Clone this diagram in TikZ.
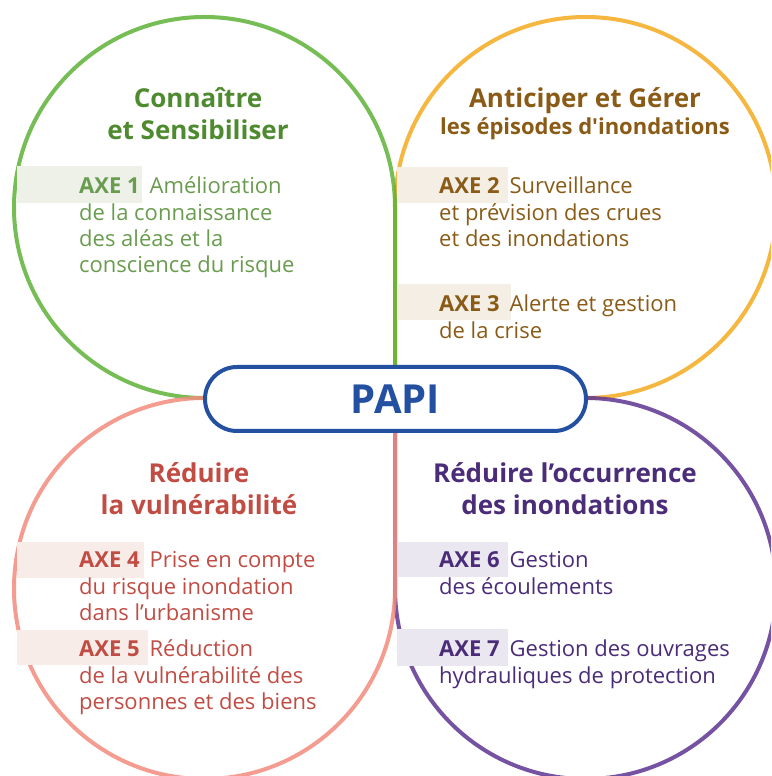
\documentclass[tikz,border=0pt]{standalone}
\usepackage{fontspec}
\setmainfont{Open Sans}
\usepackage{tikz}
\usetikzlibrary{positioning}
\definecolor{vert}{HTML}{5DB236}
\definecolor{verttxt}{HTML}{4E8A2F}
\definecolor{vertfond}{HTML}{EDF1E8}
\definecolor{orange}{HTML}{F5AA1E}
\definecolor{orangetxt}{HTML}{8A5B16}
\definecolor{orangefond}{HTML}{F4EEE5}
\definecolor{rose}{HTML}{F28B7D}
\definecolor{rosetxt}{HTML}{C14C43}
\definecolor{rosefond}{HTML}{F8ECE9}
\definecolor{violet}{HTML}{5E3592}
\definecolor{violettxt}{HTML}{4B2C79}
\definecolor{violetfond}{HTML}{EBE7F1}
\definecolor{bleu}{HTML}{2350A0}
\tikzset{blob/.style={line width=4pt, draw opacity=0.85},
         titre/.style={font=\bfseries\fontsize{26}{32.5}\selectfont, align=center, anchor=base, inner sep=0pt},
         axetxt/.style={font=\fontsize{22}{26.3}\selectfont, align=left, anchor=base west, inner sep=0pt},
         papibox/.style={draw=bleu, line width=4pt, fill=white, rounded corners=32pt,
         minimum width=381pt, minimum height=64pt, text=bleu,
         font=\bfseries\fontsize{40}{44}\selectfont}}

\begin{document}
\begin{tikzpicture}[x=1pt,y=1pt]
\clip (0,0) rectangle (771,776);

% les quatre bulles
\draw [blob, orange] (395,378) -- (585.5,378) arc[start angle=-90, end angle=180, radius=190.5] -- cycle;
\draw [blob, vert] (395,378) -- (395,568.5) arc[start angle=0, end angle=270, radius=190.5] -- cycle;
\draw [blob, violet] (395,378) -- (395,187.5) arc[start angle=180, end angle=450, radius=190.5] -- cycle;
\draw [blob, rose] (395,378) -- (204.5,378) arc[start angle=90, end angle=360, radius=190.5] -- cycle;

% fonds des axes
\fill [vertfond] (17,573) rectangle (142,610);
\fill [orangefond] (397,573) rectangle (508,609);
\fill [orangefond] (397,456) rectangle (511,492);
\fill [rosefond] (17,198) rectangle (144,234);
\fill [rosefond] (17,111) rectangle (148,146);
\fill [violetfond] (397,199) rectangle (508,234);
\fill [violetfond] (397,110) rectangle (508,147);

% titres (ancre = ligne de base de la derniere ligne)
\node [titre, text=verttxt] (connaitre) at (198,636) {Connaître\\et Sensibiliser};
\node [titre, text=orangetxt, font=\bfseries\fontsize{26}{27}\selectfont] (anticiper) at (585,641)
      {Anticiper et Gérer\\{\fontsize{22}{27}\selectfont les épisodes d\textquotesingle inondations}};
\node [titre, text=rosetxt] (vulnerab) at (199,261) {Réduire\\la vulnérabilité};
\node [titre, text=violettxt] (occurrence) at (565,261) {Réduire l’occurrence\\des inondations};

\node [axetxt, text=verttxt!85!white] (axe1) at (79,503.1) {\textbf{AXE 1}\hspace{10pt}Amélioration\\de la connaissance\\des aléas et la\\conscience du risque};
\node [axetxt, text=orangetxt] (axe2) at (439,529.4) {\textbf{AXE 2}\hspace{10pt}Surveillance\\et prévision des crues\\et des inondations};
\node [axetxt, text=orangetxt] (axe3) at (439,437.7) {\textbf{AXE 3}\hspace{10pt}Alerte et gestion\\de la crise};
\node [axetxt, text=rosetxt] (axe4) at (79,155.4) {\textbf{AXE 4}\hspace{10pt}Prise en compte\\du risque inondation\\dans l’urbanisme};
\node [axetxt, text=rosetxt] (axe5) at (79,66.4) {\textbf{AXE 5}\hspace{10pt}Réduction\\de la vulnérabilité des\\personnes et des biens};
\node [axetxt, text=violettxt] (axe6) at (439,181.7) {\textbf{AXE 6}\hspace{10pt}Gestion\\des écoulements};
\node [axetxt, text=violettxt] (axe7) at (439,92.7) {\textbf{AXE 7}\hspace{10pt}Gestion des ouvrages\\hydrauliques de protection};

\node [papibox] (papi) at (395.5,377) {PAPI};
\end{tikzpicture}
\end{document}
